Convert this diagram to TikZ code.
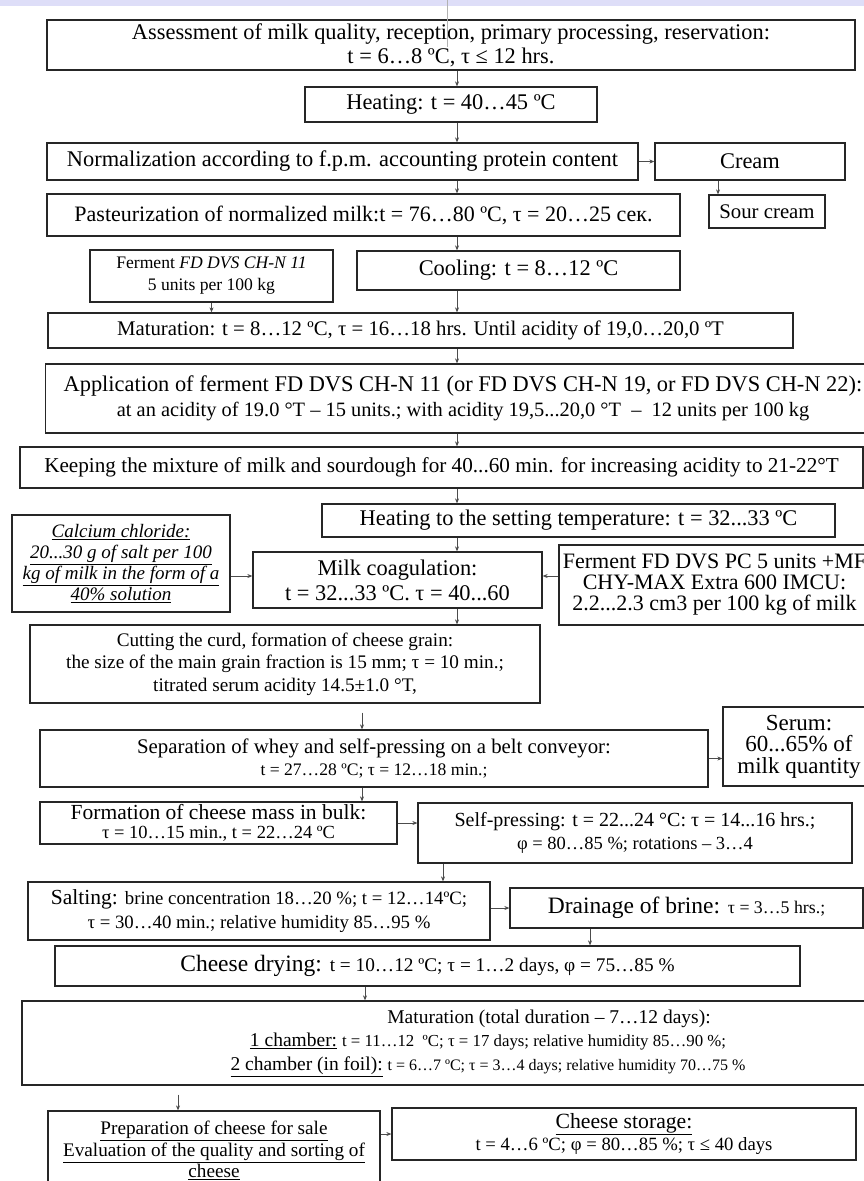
\documentclass[tikz,border=0pt]{standalone}
\usepackage{fontspec}
\setmainfont{Liberation Serif}
\usetikzlibrary{arrows.meta}
\definecolor{topband}{RGB}{222,222,248}
\newcommand{\fsz}[1]{\fontsize{#1}{#1}\selectfont}

\begin{document}
\begin{tikzpicture}[x=1pt, y=-1pt,
  procbox/.style={draw=black!85, line width=1.3pt, fill=white, align=center,
    inner sep=0pt, font=\fontsize{22.4}{24}\selectfont},
  flow/.style={draw=black!70, line width=0.6pt, -{Stealth[length=5pt,width=4pt]}}
]

\clip (0,0) rectangle (864,1181);
\fill[white] (0,0) rectangle (864,1181);
\fill[topband] (0,0) rectangle (864,6);

% Reception and heating
\node[procbox, minimum width=808pt, minimum height=50pt] (assess) at (451,45)
  {Assessment of milk quality, reception, primary processing, reservation:\\t = 6…8 ºC, τ ≤ 12 hrs.};
\node[procbox, minimum width=292pt, minimum height=35pt] (heat) at (451,104.5)
  {Heating: t = 40…45 ºC};

% Normalization
\node[procbox, minimum width=591pt, minimum height=37pt] (norm) at (342.5,161.5)
  {Normalization according to f.p.m. accounting protein content};
\node[procbox, minimum width=190pt, minimum height=37pt] (cream) at (750,161.5) {Cream};
\node[procbox, font=\fontsize{20.8}{23}\selectfont, minimum width=116pt, minimum height=33pt] (sour) at (767,211.5)
  {Sour cream};
\node[procbox, font=\fontsize{22}{24}\selectfont, minimum width=633pt, minimum height=42pt] (past) at (363.5,215)
  {Pasteurization of normalized milk:t = 76…80 ºC, τ = 20…25 сек.};

% Ferment and cooling
\node[procbox, font=\fontsize{17.6}{22}\selectfont, minimum width=243pt, minimum height=52pt] (fermA) at (211.5,276)
  {Ferment \textit{FD DVS CH-N 11}\\5 units per 100 kg};
\node[procbox, minimum width=323pt, minimum height=39pt] (cool) at (518.5,270.5)
  {Cooling: t = 8…12 ºC};
\node[procbox, font=\fontsize{20.8}{24}\selectfont, minimum width=745pt, minimum height=35pt] (matur) at (420.5,330.5)
  {Maturation: t = 8…12 ºC, τ = 16…18 hrs. Until acidity of 19,0…20,0 ºT};

% Application of ferment
\node[procbox, font=\fontsize{22.4}{25}\selectfont, minimum width=835pt, minimum height=69pt] (appl) at (463,398.5)
  {Application of ferment FD DVS CH-N 11 (or FD DVS CH-N 19, or FD DVS CH-N 22):\\{\fsz{20.4}at an acidity of 19.0 °T – 15 units.; with acidity 19,5...20,0 °T \ – \ 12 units per 100 kg}};
\node[procbox, font=\fontsize{21.2}{24}\selectfont, minimum width=843pt, minimum height=41pt] (keep) at (441.5,467.5)
  {Keeping the mixture of milk and sourdough for 40...60 min. for increasing acidity to 21-22°T};
\node[procbox, minimum width=513pt, minimum height=33pt] (heatset) at (578.5,520.5)
  {Heating to the setting temperature: t = 32...33 ºC};

% Coagulation
\node[procbox, font=\fontsize{19}{21}\selectfont\itshape, minimum width=218pt, minimum height=97pt] (calc) at (121,563.5)
  {\underline{Calcium chloride:}\\\underline{20...30 g of salt per 100}\\\underline{kg of milk in the form of a}\\\underline{40\% solution}};
\node[procbox, font=\fontsize{22.4}{25}\selectfont, minimum width=289pt, minimum height=56pt] (milk) at (397.5,580)
  {Milk coagulation:\\t = 32...33 ºC. τ = 40...60};
\node[procbox, font=\fontsize{22}{21}\selectfont, minimum width=311pt, minimum height=80pt] (fermB) at (714.5,585)
  {Ferment FD DVS PC 5 units +MF\\CHY-MAX Extra 600 IMCU:\\2.2...2.3 cm3 per 100 kg of milk};

% Curd and whey
\node[procbox, font=\fontsize{19.2}{22.5}\selectfont, minimum width=510pt, minimum height=78pt] (cut) at (285,664)
  {Cutting the curd, formation of cheese grain:\\the size of the main grain fraction is 15 mm; τ = 10 min.;\\titrated serum acidity 14.5±1.0 °T,};
\node[procbox, font=\fontsize{20.8}{22}\selectfont, minimum width=668pt, minimum height=57pt] (sep) at (374,758.5)
  {Separation of whey and self-pressing on a belt conveyor:\\{\fsz{17.6}t = 27…28 ºC; τ = 12…18 min.;}};
\node[procbox, font=\fontsize{23}{21.5}\selectfont, minimum width=152pt, minimum height=79pt] (serum) at (799,746.5)
  {Serum:\\60...65\% of\\milk quantity};

% Pressing
\node[procbox, font=\fontsize{21.5}{19}\selectfont, minimum width=357pt, minimum height=42pt] (form) at (218.5,823)
  {Formation of cheese mass in bulk:\\{\fsz{18.5}τ = 10…15 min., t = 22…24 ºC}};
\node[procbox, font=\fontsize{20}{23}\selectfont, minimum width=434pt, minimum height=60pt] (selfp) at (635,833)
  {Self-pressing: t = 22...24 °C: τ = 14...16 hrs.;\\{\fsz{18.5}φ = 80…85 \%; rotations – 3…4}};

% Salting and drying
\node[procbox, font=\fontsize{21.5}{24}\selectfont, minimum width=462pt, minimum height=58pt] (salt) at (259,911)
  {Salting: {\fsz{18.8}brine concentration 18…20 \%; t = 12…14ºC;}\\{\fsz{18.8}τ = 30…40 min.; relative humidity 85…95 \%}};
\node[procbox, font=\fontsize{23.5}{24}\selectfont, minimum width=353pt, minimum height=40pt] (drain) at (686.5,908)
  {Drainage of brine: {\fsz{17.8}τ = 3…5 hrs.;}};
\node[procbox, font=\fontsize{23.5}{24}\selectfont, minimum width=745pt, minimum height=40pt] (dry) at (427.5,966)
  {Cheese drying: {\fsz{19.3}t = 10…12 ºC; τ = 1…2 days, φ = 75…85 \%}};

% Ripening and storage
\node[procbox, font=\fontsize{19.5}{23.5}\selectfont, minimum width=932pt, minimum height=84pt] (matur2) at (488,1043)
  {\hspace*{122pt}Maturation (total duration – 7…12 days):\\\underline{1 chamber:} {\fsz{16.8}t = 11…12 \ ºC; τ = 17 days; relative humidity 85…90 \%;}\\\underline{2 chamber (in foil):} {\fsz{16}t = 6…7 ºC; τ = 3…4 days; relative humidity 70…75 \%}};
\node[procbox, font=\fontsize{19.2}{21.5}\selectfont, minimum width=332pt, minimum height=79pt] (prep) at (214,1150.5)
  {\underline{Preparation of cheese for sale}\\\underline{Evaluation of the quality and sorting of}\\\underline{cheese}};
\node[procbox, font=\fontsize{21.7}{22.5}\selectfont, minimum width=464pt, minimum height=52pt] (store) at (624,1134)
  {\underline{Cheese storage:}\\{\fsz{18.7}t = 4…6 ºC; φ = 80…85 \%; τ ≤ 40 days}};

% Connectors
\coordinate (mainx) at (457,0);
\coordinate (sourx) at (718,0);
\coordinate (coagy) at (0,576);
\coordinate (wheyx) at (362,0);
\coordinate (saltx) at (443,0);
\coordinate (dryx) at (590,0);
\coordinate (ripex) at (365,0);
\coordinate (prepx) at (178,0);
\coordinate (cursor) at (447,0);

\draw[flow] (assess.south -| mainx) -- (heat.north -| mainx);
\draw[flow] (heat.south -| mainx) -- (norm.north -| mainx);
\draw[flow] (norm.east) -- (cream.west);
\draw[flow] (cream.south -| sourx) -- (sour.north -| sourx);
\draw[flow] (norm.south -| mainx) -- (past.north -| mainx);
\draw[flow] (past.south -| mainx) -- (cool.north -| mainx);
\draw[flow] (fermA.south) -- (fermA.south |- matur.north);
\draw[flow] (cool.south -| mainx) -- (matur.north -| mainx);
\draw[flow] (matur.south -| mainx) -- (appl.north -| mainx);
\draw[flow] (appl.south -| mainx) -- (keep.north -| mainx);
\draw[flow] (keep.south -| mainx) -- (heatset.north -| mainx);
\draw[flow] (heatset.south -| mainx) -- (milk.north -| mainx);
\draw[flow] (calc.east |- coagy) -- (milk.west |- coagy);
\draw[flow] (fermB.west |- coagy) -- (milk.east |- coagy);
\draw[flow] (milk.south -| mainx) -- (cut.north -| mainx);
\draw[flow, shorten <=9pt] (cut.south -| wheyx) -- (sep.north -| wheyx);
\draw[flow] (sep.east) -- (serum.west |- sep.east);
\draw[flow] (sep.south -| wheyx) -- (form.north -| wheyx);
\draw[flow] (form.east) -- (selfp.west |- form.east);
\draw[flow] (selfp.south -| saltx) -- (salt.north -| saltx);
\draw[flow] (salt.east |- drain.west) -- (drain.west);
\draw[flow] (drain.south -| dryx) -- (dry.north -| dryx);
\draw[flow] (dry.south -| ripex) -- (matur2.north -| ripex);
\draw[flow, shorten <=9pt] (matur2.south -| prepx) -- (prep.north -| prepx);
\draw[flow] (prep.east |- store.west) -- (store.west);

\draw[gray!60, line width=0.8pt] (cursor) -- ++(0,47);

\end{tikzpicture}
\end{document}
